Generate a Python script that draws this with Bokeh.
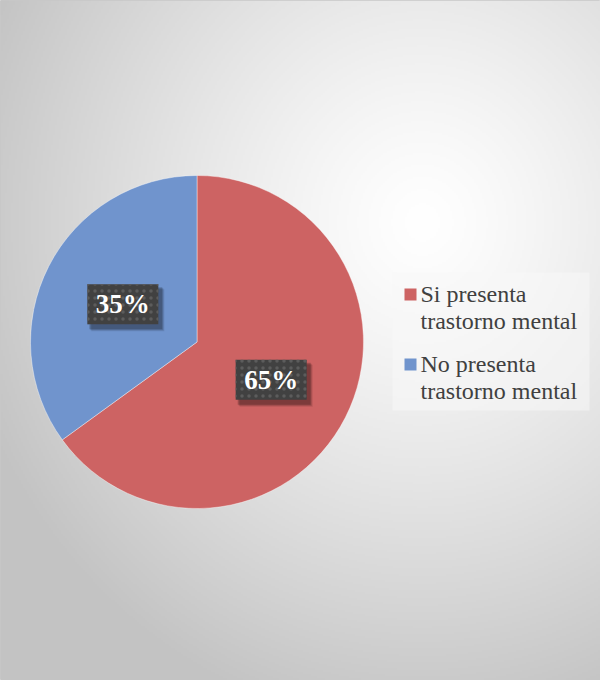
import numpy as np
from bokeh.plotting import figure
from bokeh.models import Range1d, ColumnDataSource
from bokeh.core.properties import value
from bokeh.embed import file_html
from bokeh.resources import INLINE

# ---- data ----
categories = ["Si presenta\ntrastorno mental", "No presenta\ntrastorno mental"]
percentages = [65, 35]
colors = ["#CD6363", "#7094CD"]
pct_labels = ["65%", "35%"]

W, H = 600, 680
p = figure(width=W, height=H, x_range=Range1d(0, W), y_range=Range1d(0, H),
           output_backend="svg", toolbar_location=None, min_border=0)
p.axis.visible = False
p.grid.visible = False
p.outline_line_color = "#c8c8c8"
p.background_fill_color = "#e6e6e6"
p.border_fill_color = "white"

# ---- background radial gradient (decoration) ----
gw, gh = 300, 340
gx = (np.arange(gw) + 0.5) * W / gw
gy = (np.arange(gh) + 0.5) * H / gh
X, Y = np.meshgrid(gx, gy)
cx_g, cy_g = 422.0, 458.0
d = np.sqrt(((X - cx_g) / 560.0) ** 2 + ((Y - cy_g) / 600.0) ** 2)
t = np.clip(d / 0.85, 0, 1) ** 1.25
g = (255 - 60 * t).astype(np.uint32)
img = (255 << 24) | (g << 16) | (g << 8) | g
p.image_rgba(image=[img.astype(np.uint32)], x=0, y=0, dw=W, dh=H)

# ---- pie ----
cx, cy, r = 196.5, 338.5, 166.5
fracs = np.array(percentages, dtype=float) / sum(percentages)
ends = np.pi / 2 - 2 * np.pi * np.cumsum(fracs)
starts = np.concatenate([[np.pi / 2], ends[:-1]])
mids = (starts + ends) / 2
src = ColumnDataSource(dict(start=starts, end=ends, color=colors,
                            lx=cx + 0.5 * r * np.cos(mids),
                            ly=cy + 0.5 * r * np.sin(mids),
                            label=pct_labels))
p.wedge(x=cx, y=cy, radius=r, start_angle="start", end_angle="end",
        direction="clock", fill_color="color", line_color="white",
        line_alpha=0.5, line_width=0.8, source=src)

# ---- data labels with shadow ----
bw, bh = 71, 40
for k, a in [(5, 0.10), (4, 0.15), (3, 0.2)]:
    p.rect(x=src.data["lx"] + k, y=src.data["ly"] - k - 1, width=bw + 2, height=bh + 2,
           fill_color="black", fill_alpha=a, line_color=None)
p.rect(x="lx", y="ly", width=bw, height=bh, fill_color="#414141", line_color=None,
       hatch_pattern="dot", hatch_color="#5c5c5c", hatch_scale=7, hatch_weight=1.5,
       source=src)
p.text(x="lx", y="ly", text="label", text_color="white",
       text_font=value("Liberation Serif"), text_font_style="bold",
       text_font_size="27px", text_align="center", text_baseline="middle",
       source=src)

# ---- legend (manual) ----
p.rect(x=490.5, y=339, width=197, height=138, fill_color="#f8f8f8", fill_alpha=0.55,
       line_color=None)
n = len(categories)
ly_sq = 386 - 70 * np.arange(n)
p.rect(x=[410] * n, y=ly_sq, width=12, height=12, fill_color=colors, line_color=None)
tx, ty, tl = [], [], []
for i, cat in enumerate(categories):
    for j, line in enumerate(cat.split("\n")):
        tx.append(420)
        ty.append(ly_sq[i] + 1 - 27 * j)
        tl.append(line)
p.text(x=tx, y=ty, text=tl, text_color="#404040",
       text_font=value("Liberation Serif"), text_font_size="24px",
       text_align="left", text_baseline="middle")

open("out.html", "w").write(file_html(p, INLINE))
